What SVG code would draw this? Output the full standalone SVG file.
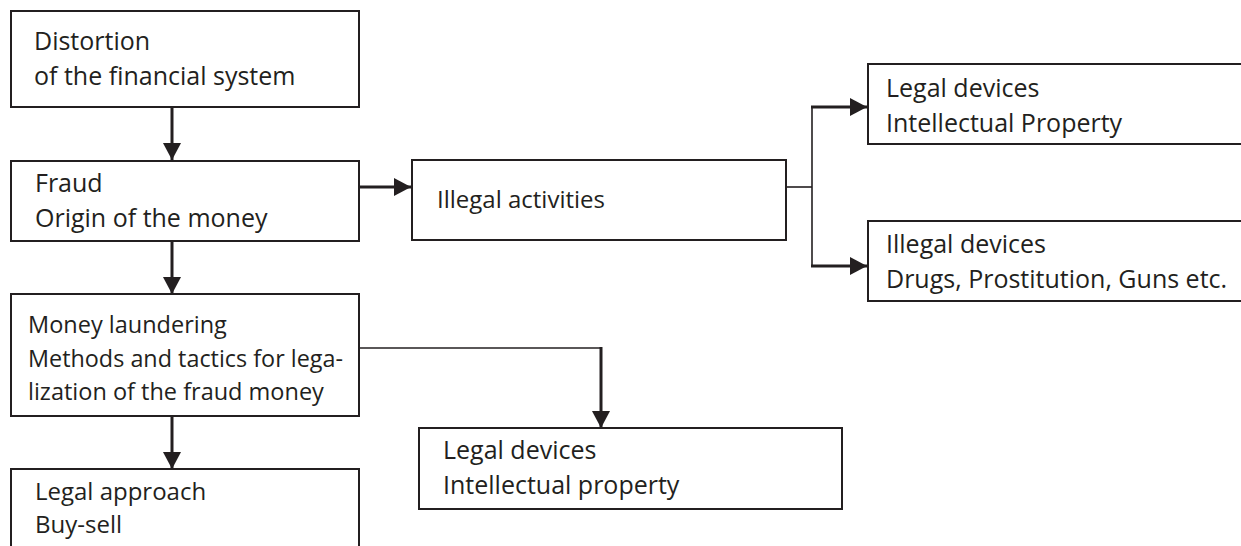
<svg xmlns="http://www.w3.org/2000/svg" width="1241" height="546" viewBox="0 0 1241 546">
<style>
.box{fill:#fff;stroke:#231f20;stroke-width:2}
.t{font-family:"Open Sans","Liberation Sans",sans-serif;font-size:25px;fill:#231f20}
.s{font-size:23.5px}
.m{font-size:24px}
.thick{fill:none;stroke:#231f20;stroke-width:3}
.thin{fill:none;stroke:#231f20;stroke-width:1.6}
</style>
<defs>
<marker id="ah" markerUnits="userSpaceOnUse" markerWidth="18" markerHeight="20" refX="17" refY="9" orient="auto">
<path d="M0,0 L17,9 L0,18 Z" fill="#231f20"/>
</marker>
</defs>
<rect width="1241" height="546" fill="#fff"/>
<g id="connectors">
<path class="thick" d="M172,107 V160" marker-end="url(#ah)"/>
<path class="thick" d="M172,241 V294" marker-end="url(#ah)"/>
<path class="thick" d="M172,416 V469" marker-end="url(#ah)"/>
<path class="thick" d="M359,187 H411" marker-end="url(#ah)"/>
<path class="thin" d="M786,187 H812"/>
<path class="thin" d="M812,107 V266"/>
<path class="thick" d="M811,107 H867" marker-end="url(#ah)"/>
<path class="thick" d="M811,266 H867" marker-end="url(#ah)"/>
<path class="thin" d="M359,348 H601"/>
<path class="thick" d="M601,347 V428" marker-end="url(#ah)"/>
</g>
<g id="n-distortion">
<rect class="box" x="11" y="11" width="348" height="96"/>
<text class="t" x="34" y="50">Distortion</text>
<text class="t" x="34" y="85">of the financial system</text>
</g>
<g id="n-fraud">
<rect class="box" x="11" y="161" width="348" height="80"/>
<text class="t" x="35" y="192">Fraud</text>
<text class="t" x="35" y="227">Origin of the money</text>
</g>
<g id="n-laundering">
<rect class="box" x="11" y="294" width="348" height="122"/>
<text class="t s" x="28" y="333">Money laundering</text>
<text class="t s" x="28" y="367" textLength="315" lengthAdjust="spacingAndGlyphs">Methods and tactics for lega-</text>
<text class="t s" x="28" y="400">lization of the fraud money</text>
</g>
<g id="n-approach">
<rect class="box" x="11" y="469" width="348" height="90"/>
<text class="t m" x="35" y="500">Legal approach</text>
<text class="t m" x="35" y="533">Buy-sell</text>
</g>
<g id="n-illegal-activities">
<rect class="box" x="412" y="160" width="374" height="80"/>
<text class="t m" x="437" y="208">Illegal activities</text>
</g>
<g id="n-legal-devices-top">
<rect class="box" x="868" y="64" width="380" height="80"/>
<text class="t" x="886" y="97">Legal devices</text>
<text class="t" x="886" y="132">Intellectual Property</text>
</g>
<g id="n-illegal-devices">
<rect class="box" x="868" y="221" width="380" height="80"/>
<text class="t" x="886" y="253">Illegal devices</text>
<text class="t" x="886" y="288">Drugs, Prostitution, Guns etc.</text>
</g>
<g id="n-legal-devices-bottom">
<rect class="box" x="419" y="428" width="423" height="81"/>
<text class="t" x="443" y="459">Legal devices</text>
<text class="t" x="443" y="494">Intellectual property</text>
</g>
</svg>
